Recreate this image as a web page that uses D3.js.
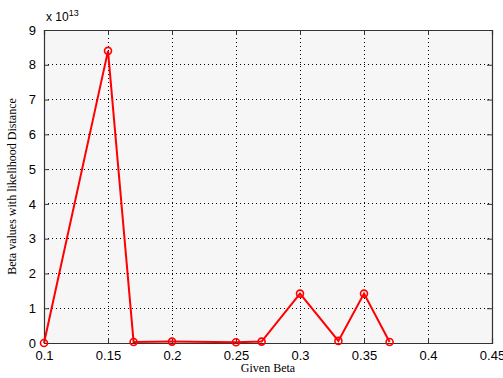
<!DOCTYPE html>
<html>
<head>
<meta charset="utf-8">
<script src="https://cdn.jsdelivr.net/npm/d3@7"></script>
<style>
  body { margin: 0; background: #fff; }
  svg text { fill: #000; }
  .tick-label { font-family: "Liberation Sans", Arial, sans-serif; font-size: 13px; }
  .axis-title { font-family: "Liberation Serif", "Times New Roman", serif; font-size: 12px; }
</style>
</head>
<body>
<svg id="chart" width="503" height="378"></svg>
<script>
const width = 503, height = 378;
const margin = { left: 44, right: 11, top: 30, bottom: 35 };

// data (y in units of 1e13)
const givenBeta = [0.1, 0.15, 0.17, 0.2, 0.25, 0.27, 0.3, 0.33, 0.35, 0.37];
const betaLikelihood = [0, 8.4, 0.03, 0.04, 0.02, 0.04, 1.42, 0.06, 1.42, 0.03];
const xTicks = [0.1, 0.15, 0.2, 0.25, 0.3, 0.35, 0.4, 0.45];
const yTicks = [0, 1, 2, 3, 4, 5, 6, 7, 8, 9];

const svg = d3.select("#chart");

const x = d3.scaleLinear().domain([0.1, 0.45]).range([margin.left, width - margin.right]);
const y = d3.scaleLinear().domain([0, 9]).range([height - margin.bottom, margin.top]);

// plot background
svg.append("rect")
  .attr("x", x(0.1)).attr("y", y(9))
  .attr("width", x(0.45) - x(0.1)).attr("height", y(0) - y(9))
  .attr("fill", "#f6f6f6");

// grid
svg.append("g").selectAll("line")
  .data(xTicks.slice(1, -1))
  .join("line")
  .attr("x1", d => x(d)).attr("x2", d => x(d))
  .attr("y1", y(0)).attr("y2", y(9))
  .attr("stroke", "#000").attr("stroke-width", 1)
  .attr("stroke-dasharray", "1,3")
  .attr("shape-rendering", "crispEdges");

svg.append("g").selectAll("line")
  .data(yTicks.slice(1, -1))
  .join("line")
  .attr("x1", x(0.1)).attr("x2", x(0.45))
  .attr("y1", d => y(d)).attr("y2", d => y(d))
  .attr("stroke", "#000").attr("stroke-width", 1)
  .attr("stroke-dasharray", "1,3")
  .attr("shape-rendering", "crispEdges");

// axes (ticks inside, box frame)
const xAxis = d3.axisBottom(x).tickValues(xTicks).tickSize(-5).tickPadding(8)
  .tickFormat(d => d3.format("")(+d.toFixed(2)));
const gx = svg.append("g").attr("transform", `translate(0,${y(0)})`).call(xAxis);

const xAxisTop = d3.axisTop(x).tickValues(xTicks).tickSize(-5).tickFormat("");
const gxt = svg.append("g").attr("transform", `translate(0,${y(9)})`).call(xAxisTop);

const yAxis = d3.axisLeft(y).tickValues(yTicks).tickSize(-5).tickPadding(8);
const gy = svg.append("g").attr("transform", `translate(${x(0.1)},0)`).call(yAxis);

const yAxisRight = d3.axisRight(y).tickValues(yTicks).tickSize(-5).tickFormat("");
const gyr = svg.append("g").attr("transform", `translate(${x(0.45)},0)`).call(yAxisRight);

[gx, gxt, gy, gyr].forEach(g => {
  g.selectAll("path").attr("stroke", "#333").attr("stroke-width", 1.2);
  g.selectAll("line").attr("stroke", "#333");
  g.selectAll("text").attr("class", "tick-label").attr("font-family", null).attr("font-size", null).attr("fill", "#000");
});

// exponent label
const expo = svg.append("text")
  .attr("x", 46).attr("y", 21)
  .attr("class", "tick-label")
  .style("font-size", "12px");
expo.append("tspan").text("x 10");
expo.append("tspan").attr("dy", -5).style("font-size", "9px").text("13");

// line + markers
const line = d3.line().x((d, i) => x(givenBeta[i])).y(d => y(d));
svg.append("path")
  .datum(betaLikelihood)
  .attr("d", line)
  .attr("fill", "none")
  .attr("stroke", "#ff0000")
  .attr("stroke-width", 2);

svg.append("g").selectAll("circle")
  .data(betaLikelihood)
  .join("circle")
  .attr("cx", (d, i) => x(givenBeta[i]))
  .attr("cy", d => y(d))
  .attr("r", 3.5)
  .attr("fill", "none")
  .attr("stroke", "#ff0000")
  .attr("stroke-width", 1.6);

// axis titles
svg.append("text")
  .attr("class", "axis-title")
  .attr("x", (x(0.1) + x(0.45)) / 2).attr("y", 372)
  .attr("text-anchor", "middle")
  .text("Given Beta");

svg.append("text")
  .attr("class", "axis-title")
  .attr("transform", `translate(16,${(y(0) + y(9)) / 2}) rotate(-90)`)
  .attr("text-anchor", "middle")
  .text("Beta values with likelihood Distance");
</script>
</body>
</html>
